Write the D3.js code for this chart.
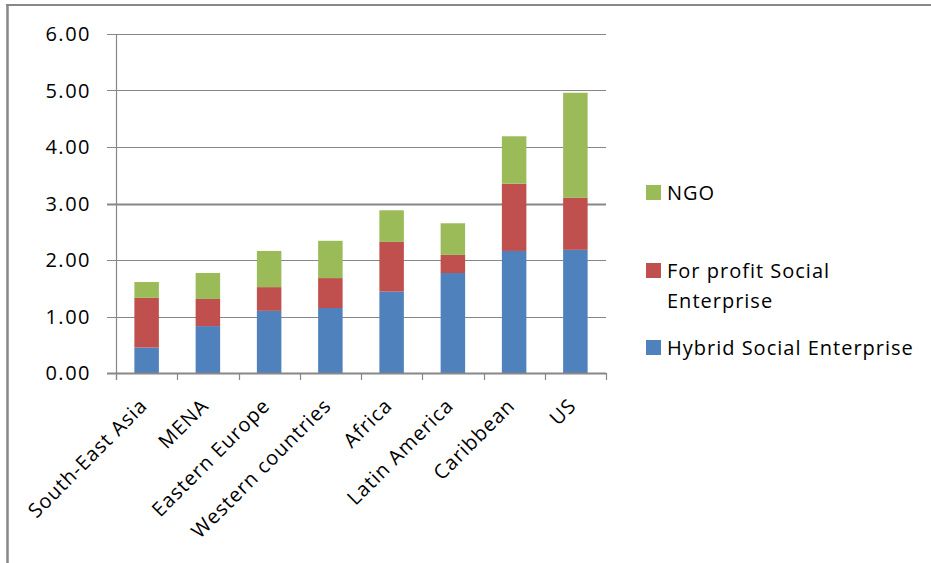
<!DOCTYPE html>
<html>
<head>
<meta charset="utf-8">
<script src="https://cdn.jsdelivr.net/npm/d3@7"></script>
<style>
  html, body { margin: 0; padding: 0; background: #fff; }
  svg { display: block; }
  text { font-family: "Open Sans", "DejaVu Sans", sans-serif; fill: #000; }
</style>
</head>
<body>
<svg id="chart" width="931" height="563"></svg>
<script>
// Regions along the category axis
const categories = ["South-East Asia", "MENA", "Eastern Europe", "Western countries",
                    "Africa", "Latin America", "Caribbean", "US"];

// Stacked values per organisation type (bottom to top)
const hybridSE   = [0.45, 0.83, 1.10, 1.15, 1.44, 1.77, 2.16, 2.18];
const forProfitSE = [0.88, 0.48, 0.42, 0.53, 0.88, 0.32, 1.19, 0.92];
const ngo        = [0.28, 0.46, 0.64, 0.66, 0.56, 0.56, 0.84, 1.86];

const seriesNames  = ["Hybrid Social Enterprise", "For profit Social Enterprise", "NGO"];
const seriesColors = ["#4F81BD", "#C0504D", "#9BBB59"];
const yTicks = [0, 1, 2, 3, 4, 5, 6];

const svg = d3.select("#chart");
const grey = "#878787";

// Outer frame (top and left edges)
svg.append("line").attr("x1", 6).attr("x2", 931).attr("y1", 5).attr("y2", 5)
  .attr("stroke", grey).attr("stroke-width", 2);
svg.append("line").attr("x1", 7.5).attr("x2", 7.5).attr("y1", 4).attr("y2", 563)
  .attr("stroke", grey).attr("stroke-width", 2.5);

const plot = { left: 116, right: 606, top: 34, bottom: 373 };

const x = d3.scaleBand().domain(categories).range([plot.left, plot.right]).padding(0);
const y = d3.scaleLinear().domain([0, 6]).range([plot.bottom, plot.top]);

// Horizontal gridlines with short tick stubs to the left of the axis
const grid = svg.append("g");
grid.selectAll("line").data(yTicks.filter(d => d > 0)).join("line")
  .attr("x1", plot.left - 9).attr("x2", plot.right)
  .attr("y1", d => Math.round(y(d)) + 0.5).attr("y2", d => Math.round(y(d)) + 0.5)
  .attr("stroke", grey).attr("stroke-width", d => d === 3 ? 2 : 1.2);

// Y tick labels
svg.append("g").selectAll("text").data(yTicks).join("text")
  .attr("x", 91).attr("y", d => y(d))
  .attr("dy", "0.36em")
  .attr("text-anchor", "end")
  .style("font-size", "20px").style("letter-spacing", "1.5px")
  .text(d => d3.format(".2f")(d));

// Stacked bars
const rows = categories.map((c, i) => ({ cat: c, s0: hybridSE[i], s1: forProfitSE[i], s2: ngo[i] }));
const stack = d3.stack().keys(["s0", "s1", "s2"])(rows);
const barW = x.bandwidth() / 2.5;

svg.append("g").selectAll("g").data(stack).join("g")
  .attr("fill", (d, i) => seriesColors[i])
  .selectAll("rect").data(d => d).join("rect")
  .attr("x", d => x(d.data.cat) + (x.bandwidth() - barW) / 2)
  .attr("width", barW)
  .attr("y", d => y(d[1]))
  .attr("height", d => y(d[0]) - y(d[1]));

// Y axis line
svg.append("line").attr("x1", plot.left + 0.5).attr("x2", plot.left + 0.5)
  .attr("y1", plot.top).attr("y2", plot.bottom + 7)
  .attr("stroke", grey).attr("stroke-width", 1.2);

// X axis line and category boundary ticks
svg.append("line").attr("x1", plot.left - 9).attr("x2", plot.right)
  .attr("y1", plot.bottom + 0.5).attr("y2", plot.bottom + 0.5)
  .attr("stroke", grey).attr("stroke-width", 2.2);
const bounds = categories.map(c => x(c)).concat([plot.right]);
svg.append("g").selectAll("line").data(bounds).join("line")
  .attr("x1", d => Math.round(d) + 0.5).attr("x2", d => Math.round(d) + 0.5)
  .attr("y1", plot.bottom).attr("y2", plot.bottom + 7)
  .attr("stroke", grey).attr("stroke-width", 1.2);

// Rotated category labels
svg.append("g").selectAll("text").data(categories).join("text")
  .attr("transform", d => `translate(${x(d) + x.bandwidth() / 2 + 2},${plot.bottom + 34}) rotate(-45)`)
  .attr("text-anchor", "end")
  .style("font-size", "20px").style("letter-spacing", "1px")
  .text(d => d);

// Legend (listed top to bottom in reverse stacking order)
const legendItems = [
  { name: "NGO", color: seriesColors[2], lines: ["NGO"], base: 200 },
  { name: "For profit Social Enterprise", color: seriesColors[1], lines: ["For profit Social", "Enterprise"], base: 278 },
  { name: "Hybrid Social Enterprise", color: seriesColors[0], lines: ["Hybrid Social Enterprise"], base: 355 }
];
const legend = svg.append("g");
legendItems.forEach(item => {
  legend.append("rect").attr("x", 646).attr("y", item.base - 15)
    .attr("width", 15).attr("height", 15).attr("fill", item.color);
  const t = legend.append("text").attr("x", 667).attr("y", item.base)
    .style("font-size", "20px").style("letter-spacing", "1px");
  item.lines.forEach((ln, k) => {
    t.append("tspan").attr("x", 667).attr("dy", k === 0 ? 0 : 30).text(ln);
  });
});
</script>
</body>
</html>
